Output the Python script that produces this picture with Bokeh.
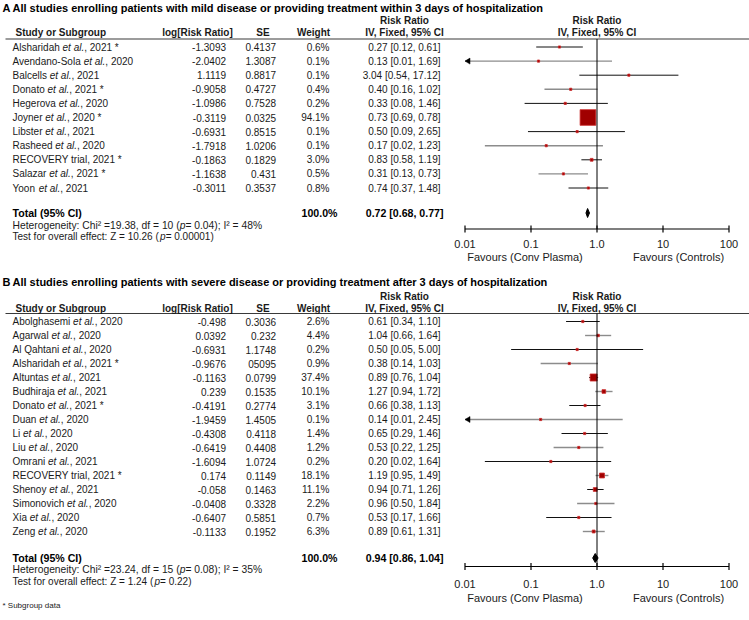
import math
from bokeh.plotting import figure
from bokeh.models import Range1d, LogScale, ColumnDataSource
from bokeh.core.properties import value, field
from bokeh.embed import file_html
from bokeh.resources import INLINE

# ---------------- data ----------------
title_a = "All studies enrolling patients with mild disease or providing treatment within 3 days of hospitalization"
studies_a = ["Alsharidah et al., 2021 *", "Avendano-Sola et al., 2020", "Balcells et al., 2021",
             "Donato et al., 2021 *", "Hegerova et al., 2020", "Joyner et al., 2020 *",
             "Libster et al., 2021", "Rasheed et al., 2020", "RECOVERY trial, 2021 *",
             "Salazar et al., 2021 *", "Yoon et al., 2021"]
log_rr_a = ["-1.3093", "-2.0402", "1.1119", "-0.9058", "-1.0986", "-0.3119", "-0.6931",
            "-1.7918", "-0.1863", "-1.1638", "-0.3011"]
se_a = ["0.4137", "1.3087", "0.8817", "0.4727", "0.7528", "0.0325", "0.8515", "1.0206",
        "0.1829", "0.431", "0.3537"]
weight_a = [0.6, 0.1, 0.1, 0.4, 0.2, 94.1, 0.1, 0.1, 3.0, 0.5, 0.8]
rr_a = [0.27, 0.13, 3.04, 0.40, 0.33, 0.73, 0.50, 0.17, 0.83, 0.31, 0.74]
lo_a = [0.12, 0.01, 0.54, 0.16, 0.08, 0.69, 0.09, 0.02, 0.58, 0.13, 0.37]
hi_a = [0.61, 1.69, 17.12, 1.02, 1.46, 0.78, 2.65, 1.23, 1.19, 0.73, 1.48]
total_a = [0.72, 0.68, 0.77]
het_a = ["19.38", "10", "0.04", "48"]
test_a = ["10.26", "0.00001"]

title_b = "All studies enrolling patients with severe disease or providing treatment after 3 days of hospitalization"
studies_b = ["Abolghasemi et al., 2020", "Agarwal et al., 2020", "Al Qahtani et al., 2020",
             "Alsharidah et al., 2021 *", "Altuntas et al., 2021", "Budhiraja et al., 2021",
             "Donato et al., 2021 *", "Duan et al., 2020", "Li et al., 2020", "Liu et al., 2020",
             "Omrani et al., 2021", "RECOVERY trial, 2021 *", "Shenoy et al., 2021",
             "Simonovich et al., 2020", "Xia et al., 2020", "Zeng et al., 2020"]
log_rr_b = ["-0.498", "0.0392", "-0.6931", "-0.9676", "-0.1163", "0.239", "-0.4191", "-1.9459",
            "-0.4308", "-0.6419", "-1.6094", "0.174", "-0.058", "-0.0408", "-0.6407", "-0.1133"]
se_b = ["0.3036", "0.232", "1.1748", "05095", "0.0799", "0.1535", "0.2774", "1.4505", "0.4118",
        "0.4408", "1.0724", "0.1149", "0.1463", "0.3328", "0.5851", "0.1952"]
weight_b = [2.6, 4.4, 0.2, 0.9, 37.4, 10.1, 3.1, 0.1, 1.4, 1.2, 0.2, 18.1, 11.1, 2.2, 0.7, 6.3]
rr_b = [0.61, 1.04, 0.50, 0.38, 0.89, 1.27, 0.66, 0.14, 0.65, 0.53, 0.20, 1.19, 0.94, 0.96, 0.53, 0.89]
lo_b = [0.34, 0.66, 0.05, 0.14, 0.76, 0.94, 0.38, 0.01, 0.29, 0.22, 0.02, 0.95, 0.71, 0.50, 0.17, 0.61]
hi_b = [1.10, 1.64, 5.00, 1.03, 1.04, 1.72, 1.13, 2.45, 1.46, 1.25, 1.64, 1.49, 1.26, 1.84, 1.66, 1.31]
total_b = [0.94, 0.86, 1.04]
het_b = ["23.24", "15", "0.08", "35"]
test_b = ["1.24", "0.22"]

tick_vals = [0.01, 0.1, 1.0, 10.0, 100.0]
tick_labels = ["0.01", "0.1", "1.0", "10", "100"]
favours = ["Favours (Conv Plasma)", "Favours (Controls)"]

# ---------------- figure ----------------
FONT = "Liberation Sans"
W, H = 749, 612
X0, X1 = 0.0, 749.0
p = figure(width=W, height=H, x_range=Range1d(X0, X1), y_range=Range1d(H, 0),
           output_backend="svg", toolbar_location=None, min_border=0,
           x_axis_location=None, y_axis_location=None)
p.grid.visible = False
p.outline_line_color = None

ONE_X, DEC = 596.5, 66.0   # position of RR=1 and width of one decade
p.extra_x_ranges = {"rr": Range1d(10 ** ((X0 - ONE_X) / DEC), 10 ** ((X1 - ONE_X) / DEC))}
p.extra_x_scales = {"rr": LogScale()}
SX = W / (X1 - X0)

AW = {' ': 278, '!': 278, '%': 889, '(': 333, ')': 333, '*': 389, ',': 278, '-': 333, '.': 278,
      ':': 278, ';': 278, '=': 584, '[': 278, ']': 278, '\u00b2': 333,
      'A': 667, 'B': 667, 'C': 722, 'D': 722, 'E': 667, 'F': 611, 'G': 778, 'H': 722, 'I': 278,
      'J': 500, 'K': 667, 'L': 556, 'M': 833, 'N': 722, 'O': 778, 'P': 667, 'Q': 778, 'R': 722,
      'S': 667, 'T': 611, 'U': 722, 'V': 667, 'W': 944, 'X': 667, 'Y': 667, 'Z': 611,
      'a': 556, 'b': 556, 'c': 500, 'd': 556, 'e': 556, 'f': 278, 'g': 556, 'h': 556, 'i': 222,
      'j': 222, 'k': 500, 'l': 222, 'm': 833, 'n': 556, 'o': 556, 'p': 556, 'q': 556, 'r': 333,
      's': 500, 't': 278, 'u': 556, 'v': 500, 'w': 722, 'x': 500, 'y': 500, 'z': 500}


def text_w(s, size):
    return sum(AW.get(c, 556) for c in s) * size / 1000.0 / SX


texts = {}


def add_text(x, y, s, size=10, style="normal", align="left", color="#1a1a1a"):
    d = texts.setdefault((style, size, color), {"x": [], "y": [], "text": [], "align": []})
    d["x"].append(x); d["y"].append(y); d["text"].append(s); d["align"].append(align)


def rich(x, y, parts, size=10):
    for s, st in parts:
        add_text(x, y, s, size, st)
        x += text_w(s, size)


def name_parts(s):
    if "et al." in s:
        pre, post = s.split("et al.", 1)
        return [(pre, "normal"), ("et al.", "italic"), (post, "normal")]
    return [(s, "normal")]


def panel(letter, title, studies, log_rr, se, weight, rr, lo, hi, total, het, test, L):
    n = len(studies)
    ys = [L["row0"] + i * L["dy"] for i in range(n)]
    add_text(2, L["title"], letter, 11, "bold", color="#000000")
    add_text(12, L["title"], title, 11, "bold", color="#000000")
    add_text(15, L["hdr2"], "Study or Subgroup", 10, "bold")
    add_text(197, L["hdr2"], "log[Risk Ratio]", 10, "bold", "center")
    add_text(262.5, L["hdr2"], "SE", 10, "bold", "center")
    add_text(313, L["hdr2"], "Weight", 10, "bold", "center")
    for cx in (404, 596.5):
        add_text(cx, L["hdr1"], "Risk Ratio", 10, "bold", "center")
        add_text(cx, L["hdr2"], "IV, Fixed, 95% CI", 10, "bold", "center")
    p.segment(x0=[5], x1=[749], y0=[L["rule"]], y1=[L["rule"]], line_color="#3a3a3a", line_width=1.2)
    for i in range(n):
        rich(12, ys[i], name_parts(studies[i]), 10)
        add_text(225.5, ys[i], log_rr[i], 10, align="right")
        add_text(275.5, ys[i], se[i], 10, align="right")
        add_text(329, ys[i], "%.1f%%" % weight[i], 10, align="right")
        add_text(440, ys[i], "%.2f [%.2f, %.2f]" % (rr[i], lo[i], hi[i]), 10, align="right")
    add_text(12, L["total"], "Total (95% CI)", 10.6, "bold", color="#000000")
    add_text(337, L["total"], "%.1f%%" % sum(weight), 10.6, "bold", "right", color="#000000")
    add_text(443, L["total"], "%.2f [%.2f, %.2f]" % tuple(total), 10.6, "bold", "right", color="#000000")
    rich(12, L["het"], [("Heterogeneity: Chi\u00b2 =%s, df = %s (" % (het[0], het[1]), "normal"),
                        ("p", "italic"),
                        (" = %s); I\u00b2 = %s%%" % (het[2], het[3]), "normal")], 10.3)
    rich(12, L["test"], [("Test for overall effect: Z = %s (" % test[0], "normal"),
                         ("p", "italic"), (" = %s)" % test[1], "normal")], 10)
    lo_c = [max(v, tick_vals[0]) for v in lo]
    cols = ["#111111" if i % 2 == 0 else "#8c8c8c" for i in range(n)]
    widths = [1.0 if i % 2 == 0 else 1.4 for i in range(n)]
    p.segment(x0=lo_c, x1=hi, y0=ys, y1=ys, x_range_name="rr", line_color=cols, line_width=widths)
    for i in range(n):
        if lo[i] <= tick_vals[0]:
            tip = tick_vals[0]
            base = tip * 10 ** (5.0 / DEC)
            p.patch(x=[tip, base, base], y=[ys[i], ys[i] - 3, ys[i] + 3], x_range_name="rr",
                    fill_color="#000000", line_color="#000000", line_width=0.5)
    sizes = [max(2.2, L["k"] * math.sqrt(w)) for w in weight]
    p.scatter(x=rr, y=ys, size=sizes, marker="square", x_range_name="rr",
              fill_color="#a00000", line_color="#cc2a2a", line_width=0.8)
    est, tlo, thi = total
    yt = L["total"] + 0.5
    p.patch(x=[tlo, est, thi, est], y=[yt, yt - 4.5, yt, yt + 4.5], x_range_name="rr",
            fill_color="#000000", line_color="#000000", line_width=1)
    p.segment(x0=[1.0], x1=[1.0], y0=[L["rule"]], y1=[L["axis"]], x_range_name="rr",
              line_color="#000000", line_width=1)
    p.segment(x0=[tick_vals[0]], x1=[tick_vals[-1]], y0=[L["axis"]], y1=[L["axis"]],
              x_range_name="rr", line_color="#000000", line_width=1.2)
    p.segment(x0=tick_vals, x1=tick_vals, y0=[L["axis"] - 3.5] * 5, y1=[L["axis"] + 3.5] * 5,
              x_range_name="rr", line_color="#000000", line_width=1.2)
    p.text(x=tick_vals, y=[L["ticklab"]] * 5, text=tick_labels, x_range_name="rr",
           text_font=value(FONT), text_font_size="11px", text_align="center",
           text_baseline="middle", text_color="#1a1a1a")
    add_text(524.5, L["fav"], favours[0], 11, align="center")
    add_text(678, L["fav"], favours[1], 11, align="center")


LA = dict(title=7, hdr1=19.5, hdr2=31.5, rule=38.5, row0=46.5, dy=14.1, total=212,
          het=224.5, test=236, axis=228.5, ticklab=243, fav=256, k=1.62)
LB = dict(title=281.5, hdr1=296, hdr2=307.5, rule=313, row0=321, dy=14.0, total=557,
          het=569, test=580.5, axis=566, ticklab=583, fav=597, k=1.15)

panel("A", title_a, studies_a, log_rr_a, se_a, weight_a, rr_a, lo_a, hi_a, total_a, het_a, test_a, LA)
panel("B", title_b, studies_b, log_rr_b, se_b, weight_b, rr_b, lo_b, hi_b, total_b, het_b, test_b, LB)
add_text(2, 605, "* Subgroup data", 8)

for (style, size, color), d in texts.items():
    src = ColumnDataSource(d)
    p.text(x="x", y="y", text="text", source=src, text_align=field("align"),
           text_baseline="middle", text_font=value(FONT), text_font_size="%spx" % size,
           text_font_style=style, text_color=color)

open("out.html", "w").write(file_html(p, INLINE))
